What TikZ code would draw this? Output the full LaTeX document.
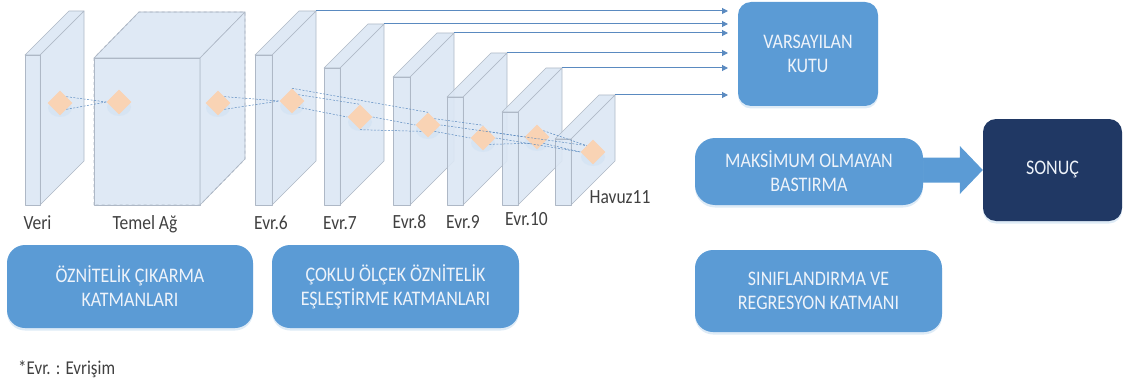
\documentclass[tikz,border=0pt]{standalone}
\usepackage{graphicx}
\usepackage{fontspec}
\setmainfont{Carlito}
\usetikzlibrary{shapes.geometric,arrows.meta,shadows}

\definecolor{boxblue}{HTML}{5B9BD5}
\definecolor{boxtext}{HTML}{EEF3FA}
\definecolor{navy}{HTML}{203864}
\definecolor{slabfill}{HTML}{DCE7F4}
\definecolor{slabedge}{HTML}{AEB8C6}
\definecolor{linkblue}{HTML}{5A8AC0}
\definecolor{peach}{HTML}{F9D3B4}
\definecolor{labelgrey}{HTML}{404040}

% one line of text, set a little taller than wide
\newcommand\tallline[1]{\scalebox{1}[1.15]{#1}}

% a feature-map slab: #1 left x, #2 right x of the front face, #3 top y, #4 name of the upper back corner
\newcommand\drawslab[4]{%
  \filldraw[slab] (#2,#3) -- (#2+44,#3-44) -- (#2+44,161) -- (#2,205) -- cycle;
  \filldraw[slab] (#1,#3) -- (#1+44,#3-44) -- (#2+44,#3-44) -- (#2,#3) -- cycle;
  \filldraw[slab] (#1,#3) rectangle (#2,205);
  \coordinate (#4) at (#2+44,#3-44);
}

\begin{document}
\begin{tikzpicture}[x=1pt,y=-1pt,
  slab/.style={fill=slabfill, draw=slabedge, line width=0.6pt, fill opacity=0.9, line join=round},
  bluebox/.style={rectangle, rounded corners=18pt, fill=boxblue, text=boxtext, align=center,
    font=\fontsize{18}{24}\selectfont, inner sep=0pt,
    drop shadow={shadow xshift=0pt, shadow yshift=-2.5pt, fill=boxblue!45, opacity=0.45}},
  feed/.style={draw=linkblue, line width=1pt, -{Triangle[length=6pt,width=6pt]}},
  link/.style={draw=linkblue, line width=0.5pt, dash pattern=on 2pt off 1.5pt},
  dia/.style={diamond, fill=peach, minimum width=25pt, minimum height=25pt, inner sep=0pt},
  glow/.style={fill=boxblue!35, opacity=0.35},
  lab/.style={text=labelgrey, font=\fontsize{17.5}{20}\selectfont, anchor=base, inner sep=0pt}]

\useasboundingbox (0,0) rectangle (1123,385);

% input slab
\drawslab{25}{40}{55}{cv}

% base network block
\filldraw[slab] (94,58) rectangle (200,205);
\filldraw[slab] (94,58) -- (139,12) -- (245,12) -- (200,58) -- cycle;
\filldraw[slab] (200,58) -- (245,12) -- (245,159) -- (200,205) -- cycle;
\draw[slabedge, line width=0.8pt, dashed] (94,205) -- (94,58) -- (139,12) -- (245,12) -- (245,159) -- (200,205) -- cycle;

% multi-scale feature slabs
\drawslab{255}{272}{55}{c6}
\drawslab{324}{340}{68}{c7}
\drawslab{393}{410}{77}{c8}
\drawslab{447}{463}{97}{c9}
\drawslab{502}{518}{112}{c10}
\drawslab{555}{571}{139}{c11}

% default box and the feature feeds into it
\node[bluebox, minimum width=140pt, minimum height=104pt, rounded corners=13pt] (vb) at (808,54)
  {\tallline{VARSAYILAN}\\\tallline{KUTU}};
\coordinate (vin) at (728,54);
\foreach \c in {c6,c7,c8,c9,c10,c11}
  \draw[feed] (\c) -- (\c -| vin);

% feature points on the slabs
\foreach \x/\y/\n in {60/103/d1, 119/102/d2, 218/103/d3, 292/101/d4, 360/117/d5,
                      428/125/d6, 483/138/d7, 537/137/d8, 593/152/d9} {
  \fill[glow] (\x,\y+5) ellipse [x radius=12, y radius=9];
  \node[dia] (\n) at (\x,\y) {};
}

\draw[link] (d1.north east) -- (d2.west);
\draw[link] (d1.south east) -- (d2.west);
\draw[link] (d3.north east) -- (d4.west);
\draw[link] (d3.south east) -- (d4.west);
\draw[link] (d4.north east) -- (d5.north);
\draw[link] (d4.south east) -- (d5.west);
\draw[link] (d4.north) -- (d6.north);
\draw[link] (d5.east) -- (d6.west);
\draw[link] (d5.south) -- (d6.south west);
\draw[link] (d6.north east) -- (d7.north);
\draw[link] (d6.south east) -- (d7.west);
\draw[link] (d6.east) -- (d9.north west);
\draw[link] (d7.north east) -- (d8.west);
\draw[link] (d7.south east) -- (d8.south west);
\draw[link] (d7.east) -- (d9.west);
\draw[link] (d8.north east) -- (d9.north west);
\draw[link] (d8.south east) -- (d9.west);

% slab labels
\node[lab] (lv) at (37.5,229) {\tallline{Veri}};
\node[lab] (lt) at (145,229) {\tallline{Temel Ağ}};
\node[lab] (l6) at (271,229) {\tallline{Evr.6}};
\node[lab] (l7) at (340,229) {\tallline{Evr.7}};
\node[lab] (l8) at (409.5,228) {\tallline{Evr.8}};
\node[lab] (l9) at (463,228) {\tallline{Evr.9}};
\node[lab] (l10) at (526.5,225) {\tallline{Evr.10}};
\node[lab] (l11) at (620,203) {\tallline{Havuz11}};

% layer group boxes
\node[bluebox, minimum width=246pt, minimum height=83pt] (fe) at (130,286.5)
  {\tallline{ÖZNİTELİK ÇIKARMA}\\\tallline{KATMANLARI}};
\node[bluebox, minimum width=247pt, minimum height=83pt] (ms) at (395.5,286.5)
  {\tallline{ÇOKLU ÖLÇEK ÖZNİTELİK}\\\tallline{EŞLEŞTİRME KATMANLARI}};
\node[bluebox, minimum width=247pt, minimum height=82pt] (cr) at (818.5,291)
  {\tallline{SINIFLANDIRMA VE}\\\tallline{REGRESYON KATMANI}};

% suppression step and result
\node[bluebox, minimum width=139pt, minimum height=102pt, fill=navy, rounded corners=13pt] (res) at (1052.5,170)
  {\tallline{SONUÇ}};
\fill[boxblue] ([xshift=-15pt,yshift=12.5pt]res.west -| 923,0) -- ([xshift=-23pt,yshift=12.5pt]res.west)
  -- ([xshift=-23pt,yshift=24pt]res.west) -- (res.west) -- ([xshift=-23pt,yshift=-24pt]res.west)
  -- ([xshift=-23pt,yshift=-12.5pt]res.west) -- ([xshift=-15pt,yshift=-12.5pt]res.west -| 923,0) -- cycle;
\node[bluebox, minimum width=228pt, minimum height=67pt, rounded corners=20pt] (mx) at (809,171.5)
  {\tallline{MAKSİMUM OLMAYAN}\\\tallline{BASTIRMA}};

% footnote
\node[lab, anchor=base west, font=\fontsize{17}{20}\selectfont] (fn) at (18,374) {\tallline{*Evr. : Evrişim}};
\end{tikzpicture}
\end{document}
